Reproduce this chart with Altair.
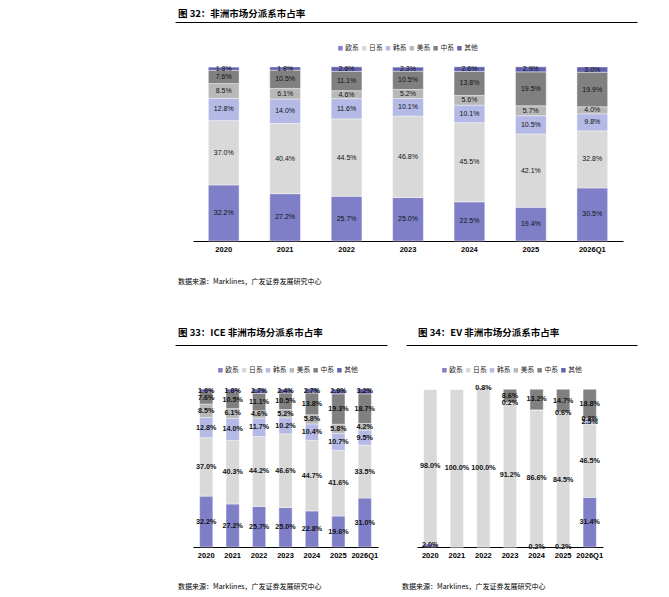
import altair as alt
import pandas as pd

years = ["2020", "2021", "2022", "2023", "2024", "2025", "2026Q1"]
series = ["欧系", "日系", "韩系", "美系", "中系", "其他"]
colors = ["#7F7FC8", "#D9D9D9", "#B4B9E6", "#B8B8B8", "#808080", "#6262AE"]

# 图32 全部
all_eu = [32.2, 27.2, 25.7, 25.0, 22.5, 19.4, 30.5]
all_jp = [37.0, 40.4, 44.5, 46.8, 45.5, 42.1, 32.8]
all_kr = [12.8, 14.0, 11.6, 10.1, 10.1, 10.5, 9.8]
all_us = [8.5, 6.1, 4.6, 5.2, 5.6, 5.7, 4.0]
all_cn = [7.6, 10.5, 11.1, 10.5, 13.8, 19.5, 19.9]
all_ot = [1.8, 1.8, 2.6, 2.3, 2.6, 2.9, 3.0]

# 图33 ICE
ice_eu = [32.2, 27.2, 25.7, 25.0, 22.8, 19.6, 31.0]
ice_jp = [37.0, 40.3, 44.2, 46.6, 44.7, 41.6, 33.5]
ice_kr = [12.8, 14.0, 11.7, 10.2, 10.4, 10.7, 9.5]
ice_us = [8.5, 6.1, 4.6, 5.2, 5.8, 5.8, 4.2]
ice_cn = [7.6, 10.5, 11.1, 10.5, 13.8, 19.3, 18.7]
ice_ot = [1.8, 1.8, 2.7, 2.4, 2.7, 2.9, 3.2]

# 图34 EV
ev_eu = [2.0, 0.0, 0.0, 0.0, 0.2, 0.2, 31.4]
ev_jp = [98.0, 100.0, 100.0, 91.2, 86.6, 84.5, 46.5]
ev_kr = [0.0, 0.0, 0.0, 0.0, 0.0, 0.0, 2.5]
ev_us = [0.0, 0.0, 0.0, 0.2, 0.0, 0.6, 0.8]
ev_cn = [0.0, 0.0, 0.8, 8.6, 13.2, 14.7, 18.8]
ev_ot = [0.0, 0.0, 0.0, 0.0, 0.0, 0.0, 0.0]

titles = ["图 32：非洲市场分派系市占率", "图 33：ICE 非洲市场分派系市占率", "图 34：EV 非洲市场分派系市占率"]
source = "数据来源：Marklines，广发证券发展研究中心"

CJK = "Noto Sans CJK SC"
LAT = "Liberation Sans"


def frame(cols):
    rows = []
    for i, yr in enumerate(years):
        base = 0.0
        for k, s in enumerate(series):
            v = cols[k][i]
            rows.append(dict(year=yr, series=s, order=k, value=v, y0=base, y1=base + v,
                             mid=base + v / 2, label=(f"{v:.1f}%" if v > 0 else "")))
            base += v
    return pd.DataFrame(rows)


def panel(df, w, h, title, title_dx, title_y, rx1, rx2, ry, src_dx, src_y, lx, ly, lsize, lweight):
    xenc = alt.X("year:N", sort=years,
                 scale=alt.Scale(paddingInner=0.5, paddingOuter=0.25),
                 axis=alt.Axis(title=None, labelAngle=0, ticks=False, domainColor="black",
                               domainWidth=1, labelFont=LAT, labelFontWeight="bold",
                               labelFontSize=7.5, labelColor="black", labelPadding=4, grid=False))
    bars = alt.Chart(df).mark_bar(stroke="white", strokeWidth=0.4).encode(
        x=xenc,
        y=alt.Y("y0:Q", scale=alt.Scale(domain=[0, 100], nice=False, zero=True), axis=None),
        y2="y1:Q",
        color=alt.Color("series:N", scale=alt.Scale(domain=series, range=colors),
                        legend=alt.Legend(title=None, orient="none", legendX=lx, legendY=ly,
                                          direction="horizontal", columns=6, symbolType="square",
                                          symbolSize=20, symbolStrokeWidth=0, labelFont=CJK,
                                          labelFontSize=6.8, labelOffset=1.5, columnPadding=1.8,
                                          labelColor="#222")),
        order="order:Q",
    )
    labels = alt.Chart(df).mark_text(font=LAT, fontSize=lsize, fontWeight=lweight,
                                     color="#111").encode(
        x=alt.X("year:N", sort=years, scale=alt.Scale(paddingInner=0.5, paddingOuter=0.25),
                axis=None),
        y=alt.Y("mid:Q"),
        text="label:N",
    )
    dummy = pd.DataFrame({"t": [0]})
    ttl = alt.Chart(dummy).mark_text(align="left", baseline="middle", font=CJK, fontSize=9.5,
                                     fontWeight="bold", color="black").encode(
        x=alt.value(title_dx), y=alt.value(title_y), text=alt.value(title))
    linedata = pd.DataFrame({"a": [0.0], "b": [1.0]})
    # the separator line under each title is drawn as the domain of a top axis
    rule = alt.Chart(linedata).mark_rule(color="black", strokeWidth=1, opacity=0).encode(
        x=alt.X("a:Q", scale=alt.Scale(domain=[0, 1], range=[rx1, rx2], nice=False, zero=False),
                axis=alt.Axis(orient="top", offset=-ry, domain=True, domainColor="black",
                              domainWidth=1, labels=False, ticks=False, grid=False, title=None)),
        x2="b:Q",
        y=alt.value(ry),
    )
    src = alt.Chart(dummy).mark_text(align="left", baseline="middle", font=CJK, fontSize=7,
                                     color="black").encode(
        x=alt.value(src_dx), y=alt.value(src_y), text=alt.value(source))
    return alt.layer(bars, labels, ttl, rule, src).resolve_scale(x="independent").properties(
        width=w, height=h)


top = panel(frame([all_eu, all_jp, all_kr, all_us, all_cn, all_ot]), 430, 174, titles[0],
            -15, -53, -18, 444, -45, -15, 215, 144, -22.5, 7, "normal")
left = panel(frame([ice_eu, ice_jp, ice_kr, ice_us, ice_cn, ice_ot]), 185, 158, titles[1],
             -15, -56, -18, 194, -44, -15, 198, 24, -22.5, 7.2, "bold")
right = panel(frame([ev_eu, ev_jp, ev_kr, ev_us, ev_cn, ev_ot]), 186, 158, titles[2],
              1, -56, -11, 220, -44, -15, 198, 24, -22.5, 7.2, "bold")

bottom = alt.hconcat(left, right, spacing=39, bounds="flush").resolve_legend(color="independent")
chart = alt.vconcat(top, bottom, spacing=148, bounds="flush").resolve_legend(
    color="independent").properties(
    padding={"left": 167, "top": 1, "right": 5, "bottom": 5}
).configure_view(stroke=None)

chart.save("out.html", embed_options={"renderer": "svg", "actions": False})
